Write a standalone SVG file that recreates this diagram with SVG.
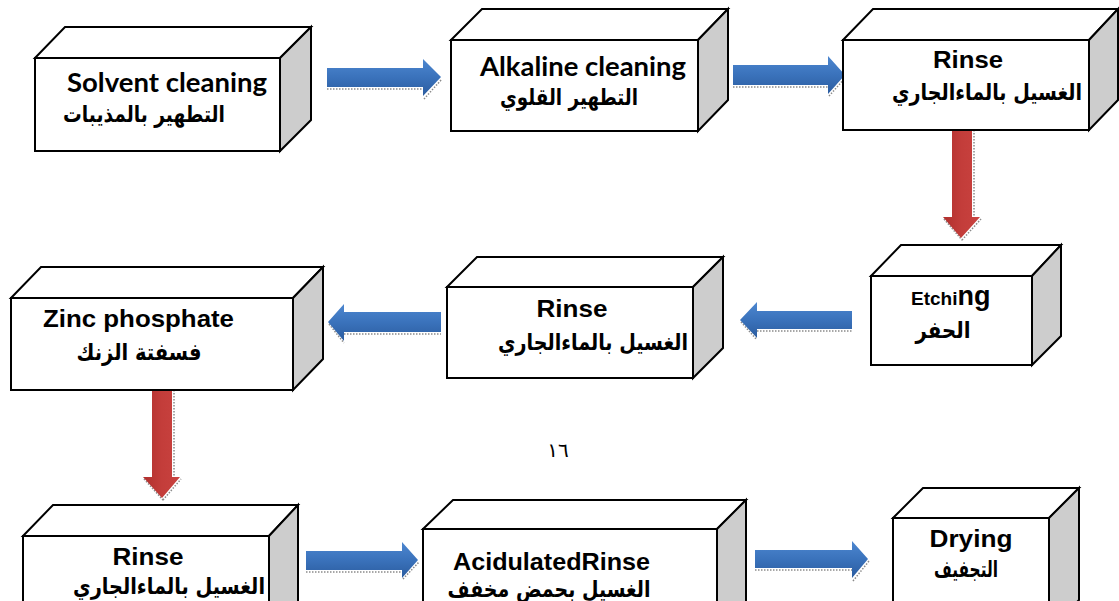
<svg xmlns="http://www.w3.org/2000/svg" width="1119" height="601" viewBox="0 0 1119 601">
<style>
.front{fill:#fff;stroke:#000;stroke-width:2;stroke-linejoin:miter}
.top{fill:#fff;stroke:#000;stroke-width:2}
.side{fill:#cdcdcd;stroke:#000;stroke-width:2}
.en{font-family:"Liberation Sans",Arial,sans-serif;font-weight:bold;fill:#000}
.cal{font-family:Lato,"Liberation Sans",sans-serif;font-weight:bold;fill:#000}
.ar{font-family:"DejaVu Sans","Noto Sans",sans-serif;font-weight:bold;fill:#000;font-size:23px}
.ab{fill:url(#blue)}
.ar2{fill:url(#red)}
.sh{fill:none;stroke:#8a8a8a;stroke-width:1.5;stroke-dasharray:1.5 1.5}
</style>
<defs>
<linearGradient id="blue" x1="0" y1="0" x2="0" y2="1">
<stop offset="0" stop-color="#4d87d0"/>
<stop offset="0.5" stop-color="#3a72bb"/>
<stop offset="1" stop-color="#2b5c9f"/>
</linearGradient>
<linearGradient id="red" x1="0" y1="0" x2="1" y2="0">
<stop offset="0" stop-color="#b02f2d"/>
<stop offset="0.5" stop-color="#c33d3a"/>
<stop offset="1" stop-color="#c9423f"/>
</linearGradient>
</defs>
<rect width="1119" height="601" fill="#fff"/>

<g id="connectors">
<path class="sh" d="M327 89 H424 M424 99 L442 79"/>
<path class="ab" d="M327 68 H423 V59 L441 77 L423 96 V87 H327 Z"/>
<path class="sh" d="M733 87 H829 M829 96 L846 77"/>
<path class="ab" d="M733 65 H828 V56 L845 75 L828 94 V85 H733 Z"/>
<path class="sh" d="M974 130 V218 M962 240 L981 219 M944 219 L962 240"/>
<path class="ar2" d="M952 130 H972 V217 H980 L961 238 L943 217 H952 Z"/>
<path class="sh" d="M757 331 H852 M741 322 L757 340"/>
<path class="ab" d="M852 311 H757 V302 L740 320 L757 338 V329 H852 Z"/>
<path class="sh" d="M344 334 H441 M329 324 L344 343"/>
<path class="ab" d="M441 312 H344 V304 L328 322 L344 341 V332 H441 Z"/>
<path class="sh" d="M174 390 V478 M163 500 L181 479 M144 479 L163 500"/>
<path class="ar2" d="M152 390 H172 V477 H180 L162 498 L143 477 H152 Z"/>
<path class="sh" d="M306 572 H403 M403 579 L419 562"/>
<path class="ab" d="M306 551 H402 V542 L418 560 L402 578 V570 H306 Z"/>
<path class="sh" d="M755 570 H853 M853 581 L869 561"/>
<path class="ab" d="M755 550 H852 V541 L868 559 L852 578 V568 H755 Z"/>
</g>

<g id="n1">
<polygon class="top" points="35,58 65,27 311,27 280,58"/>
<polygon class="side" points="280,58 311,27 311,120 280,151"/>
<rect class="front" x="35" y="58" width="245" height="93"/>
<text class="cal" x="67" y="92" font-size="26" textLength="200" lengthAdjust="spacingAndGlyphs">Solvent cleaning</text>
<text class="ar" x="144" y="122" text-anchor="middle" textLength="162" lengthAdjust="spacingAndGlyphs">التطهير بالمذيبات</text>
</g>

<g id="n2">
<polygon class="top" points="451,40 482,9 728,9 698,40"/>
<polygon class="side" points="698,40 728,9 728,100 698,131"/>
<rect class="front" x="451" y="40" width="247" height="91"/>
<text class="cal" x="480" y="76" font-size="27" textLength="206" lengthAdjust="spacingAndGlyphs">Alkaline cleaning</text>
<text class="ar" x="569" y="105" text-anchor="middle" textLength="138" lengthAdjust="spacingAndGlyphs">التطهير القلوي</text>
</g>

<g id="n3">
<polygon class="top" points="843,40 873,9 1118,9 1089,40"/>
<polygon class="side" points="1089,40 1118,9 1118,100 1089,130"/>
<rect class="front" x="843" y="40" width="246" height="90"/>
<text class="en" x="968" y="68" font-size="24" text-anchor="middle" textLength="70" lengthAdjust="spacingAndGlyphs">Rinse</text>
<text class="ar" x="987" y="100" text-anchor="middle" textLength="190" lengthAdjust="spacingAndGlyphs">الغسيل بالماءالجاري</text>
</g>

<g id="n4">
<polygon class="top" points="871,276 901,245 1061,245 1032,276"/>
<polygon class="side" points="1032,276 1061,245 1061,336 1032,365"/>
<rect class="front" x="871" y="276" width="161" height="89"/>
<text class="en" x="911" y="305"><tspan font-size="19">Etchi</tspan><tspan font-size="27">ng</tspan></text>
<text class="ar" x="943" y="338" text-anchor="middle" textLength="55" lengthAdjust="spacingAndGlyphs">الحفر</text>
</g>

<g id="n5">
<polygon class="top" points="447,287 477,257 723,257 693,287"/>
<polygon class="side" points="693,287 723,257 723,348 693,378"/>
<rect class="front" x="447" y="287" width="246" height="91"/>
<text class="en" x="572" y="317" font-size="24" text-anchor="middle" textLength="71" lengthAdjust="spacingAndGlyphs">Rinse</text>
<text class="ar" x="593" y="350" text-anchor="middle" textLength="190" lengthAdjust="spacingAndGlyphs">الغسيل بالماءالجاري</text>
</g>

<g id="n6">
<polygon class="top" points="11,298 41,267 323,267 293,298"/>
<polygon class="side" points="293,298 323,267 323,359 293,390"/>
<rect class="front" x="11" y="298" width="282" height="92"/>
<text class="en" x="43" y="327" font-size="24" textLength="191" lengthAdjust="spacingAndGlyphs">Zinc phosphate</text>
<text class="ar" x="139" y="360" text-anchor="middle" textLength="125" lengthAdjust="spacingAndGlyphs">فسفتة الزنك</text>
</g>

<g id="n7">
<polygon class="top" points="23,536 53,505 298,505 269,536"/>
<polygon class="side" points="269,536 298,505 298,610 269,640"/>
<rect class="front" x="23" y="536" width="246" height="100"/>
<text class="en" x="148" y="565" font-size="24" text-anchor="middle" textLength="71" lengthAdjust="spacingAndGlyphs">Rinse</text>
<text class="ar" x="169" y="594" text-anchor="middle" textLength="192" lengthAdjust="spacingAndGlyphs">الغسيل بالماءالجاري</text>
</g>

<g id="n8">
<polygon class="top" points="423,529 453,500 746,500 717,529"/>
<polygon class="side" points="717,529 746,500 746,610 717,640"/>
<rect class="front" x="423" y="529" width="294" height="100"/>
<text class="en" x="453" y="570" font-size="24" textLength="197" lengthAdjust="spacingAndGlyphs">AcidulatedRinse</text>
<text class="ar" x="549" y="597" text-anchor="middle" font-size="20" textLength="203" lengthAdjust="spacingAndGlyphs">الغسيل بحمض مخفف</text>
</g>

<g id="n9">
<polygon class="top" points="893,518 923,488 1079,488 1049,518"/>
<polygon class="side" points="1049,518 1079,488 1079,600 1049,630"/>
<rect class="front" x="893" y="518" width="156" height="100"/>
<text class="en" x="971" y="547" font-size="24" text-anchor="middle" textLength="83" lengthAdjust="spacingAndGlyphs">Drying</text>
<text class="ar" x="966" y="577" text-anchor="middle" textLength="64" lengthAdjust="spacingAndGlyphs">التجفيف</text>
</g>

<text x="558" y="457" text-anchor="middle" font-family="'DejaVu Sans',sans-serif" font-size="20" fill="#000">١٦</text>
</svg>
